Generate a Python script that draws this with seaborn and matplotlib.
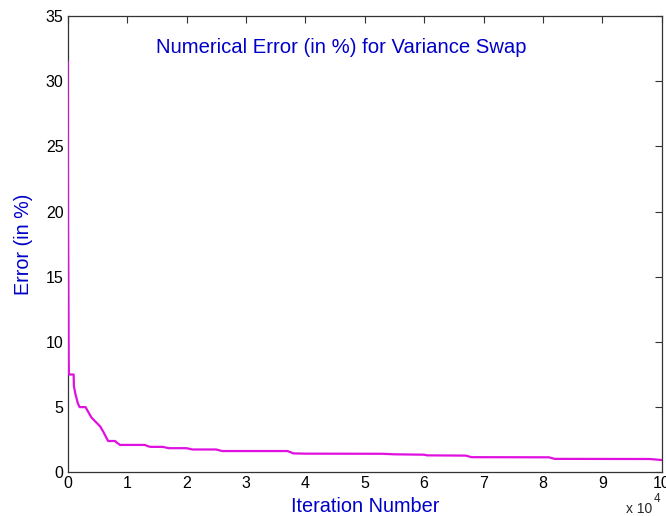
import matplotlib
matplotlib.use('Agg')
import matplotlib.pyplot as plt
import seaborn as sns
import pandas as pd

# Значения (итерации и ошибка в %)
iterations = [0, 60, 100, 130, 160, 200, 250, 1000, 1050, 1300, 1700, 2000, 3000,
              4000, 5500, 6000, 6800, 7000, 8000, 8200, 8800, 9000, 13000, 13500,
              14000, 16000, 17000, 20000, 21000, 25000, 26000, 37000, 38000, 40000,
              53000, 55000, 60000, 60500, 67000, 68000, 81000, 82000, 98000, 100000]
error_pct = [31.5, 18.6, 15.0, 12.2, 8.9, 7.6, 7.5, 7.5, 6.6, 6.0, 5.3, 5.0, 5.0,
             4.2, 3.5, 3.1, 2.4, 2.4, 2.4, 2.3, 2.1, 2.1, 2.1, 2.0,
             1.95, 1.95, 1.85, 1.85, 1.75, 1.75, 1.63, 1.63, 1.45, 1.43,
             1.42, 1.38, 1.35, 1.30, 1.28, 1.16, 1.15, 1.03, 1.02, 0.94]

x_ticks = list(range(0, 11))
y_ticks = list(range(0, 36, 5))

df = pd.DataFrame({'iter': [i / 1e4 for i in iterations], 'err': error_pct})

sns.set_style('white')
plt.rcParams['font.family'] = ['Liberation Sans', 'DejaVu Sans']
plt.rcParams['xtick.direction'] = 'in'
plt.rcParams['ytick.direction'] = 'in'

fig = plt.figure(figsize=(6.66, 5.16), dpi=100)
ax = fig.add_axes([67.7 / 666, 1 - 472.3 / 516, 594 / 666, 456.3 / 516])

sns.lineplot(data=df, x='iter', y='err', color='#e010e0', linewidth=1.6, ax=ax)
ax.lines[0].set_zorder(3)

ax.set_xlim(0, 10)
ax.set_ylim(0, 35)
ax.set_xticks(x_ticks)
ax.set_yticks(y_ticks)
ax.tick_params(axis='both', which='both', top=True, right=True, length=5,
               width=0.8, color='#333333', labelcolor='black', labelsize=11.5, pad=3)
for s in ax.spines.values():
    s.set_color('#333333')
    s.set_linewidth(0.9)

blue = '#0000c8'
ax.set_xlabel('Iteration Number', fontsize=14.3, color=blue, labelpad=4)
ax.set_ylabel('Error (in %)', fontsize=14.2, color=blue, labelpad=9)
ax.text(0.46, 0.932, 'Numerical Error (in %) for Variance Swap', transform=ax.transAxes,
        ha='center', va='center', fontsize=14.6, color=blue)
fig.text(626 / 666, 1 - 509 / 516, 'x 10', fontsize=10, ha='left', va='center')
fig.text(654 / 666, 1 - 499 / 516, '4', fontsize=8.5, ha='left', va='center')

plt.savefig('out.png', dpi=100)
